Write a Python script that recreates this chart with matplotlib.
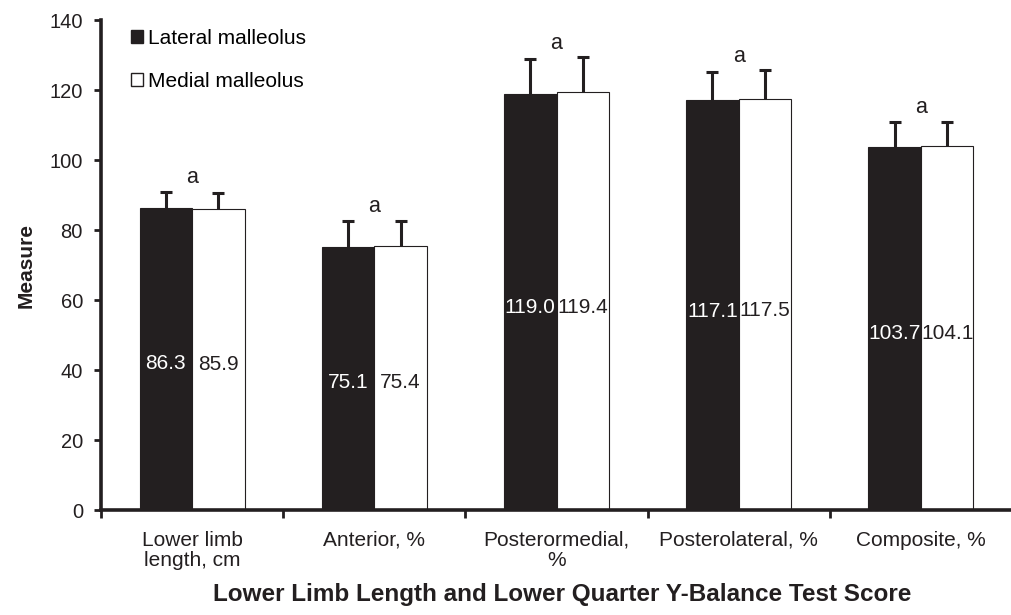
import numpy as np
import matplotlib
matplotlib.use('Agg')
import matplotlib.pyplot as plt
from matplotlib.patches import Patch

plt.rcParams['font.family'] = ['Liberation Sans', 'DejaVu Sans']

categories = ['Lower limb\nlength, cm', 'Anterior, %', 'Posterormedial,\n%', 'Posterolateral, %', 'Composite, %']
lateral = [86.3, 75.1, 119.0, 117.1, 103.7]
medial = [85.9, 75.4, 119.4, 117.5, 104.1]
lateral_sd = [4.6, 7.5, 9.9, 8.1, 7.1]
medial_sd = [4.7, 7.2, 9.9, 8.2, 6.8]
sig_marks = ['a', 'a', 'a', 'a', 'a']

black = '#231f20'
fig = plt.figure(figsize=(10.12, 6.15), dpi=100)
ax = fig.add_axes([101/1012, 105/615, 911/1012, 490/615])

x = np.arange(len(categories))
w = 0.288
ax.bar(x - w, lateral, width=w, align='edge', color=black, edgecolor=black, linewidth=0.8, zorder=2)
ax.bar(x, medial, width=w, align='edge', color='white', edgecolor=black, linewidth=0.8, zorder=2)
# error bars sit behind the bars so only the upper half shows
ekw = dict(fmt='none', ecolor=black, elinewidth=2.2, capsize=4, capthick=2.2, zorder=1)
ax.errorbar(x - w/2, lateral, yerr=lateral_sd, **ekw)
ax.errorbar(x + w/2, medial, yerr=medial_sd, **ekw)

# value labels inside bars, significance marks above
for i in range(len(x)):
    ax.text(x[i] - w/2, lateral[i]*0.485, '%.1f' % lateral[i], color='white', fontsize=15,
            ha='center', va='center', zorder=4)
    ax.text(x[i] + w/2, medial[i]*0.485, '%.1f' % medial[i], color=black, fontsize=15,
            ha='center', va='center', zorder=4)
    top = max(lateral[i] + lateral_sd[i], medial[i] + medial_sd[i])
    ax.text(x[i], top + 4, sig_marks[i], color=black, fontsize=15.5, ha='center', va='center')

ax.set_xlim(-0.5, -0.5 + 911/184)
ax.set_ylim(0, 140)
ax.set_yticks(np.arange(0, 141, 20))
ax.set_xticks(x)
ax.set_xticklabels(categories, fontsize=15, color=black, linespacing=1.05)
ax.set_xticks(np.arange(-0.5, len(x), 1), minor=True)
ax.tick_params(axis='x', which='major', length=0, pad=15)
ax.tick_params(axis='x', which='minor', length=6, width=2, direction='out', color=black)
ax.tick_params(axis='y', length=5, width=2, direction='out', pad=8, labelsize=14.5, color=black, labelcolor=black)

for s in ['top', 'right']:
    ax.spines[s].set_visible(False)
for s in ['left', 'bottom']:
    ax.spines[s].set_linewidth(2.6)
    ax.spines[s].set_color(black)

ax.set_ylabel('Measure', fontsize=15, fontweight='bold', color=black, labelpad=10)
fig.text(562/1012, 1 - 594/615, 'Lower Limb Length and Lower Quarter Y-Balance Test Score',
         fontsize=17.5, fontweight='bold', color=black, ha='center', va='center')

handles = [Patch(facecolor=black, edgecolor=black), Patch(facecolor='white', edgecolor=black)]
ax.legend(handles, ['Lateral malleolus', 'Medial malleolus'], loc='upper left',
          bbox_to_anchor=(0.012, 1.02), frameon=False, fontsize=15, handlelength=0.58,
          handleheight=0.58, handletextpad=0.25, labelspacing=1.15)

fig.savefig('out.png', dpi=100)
